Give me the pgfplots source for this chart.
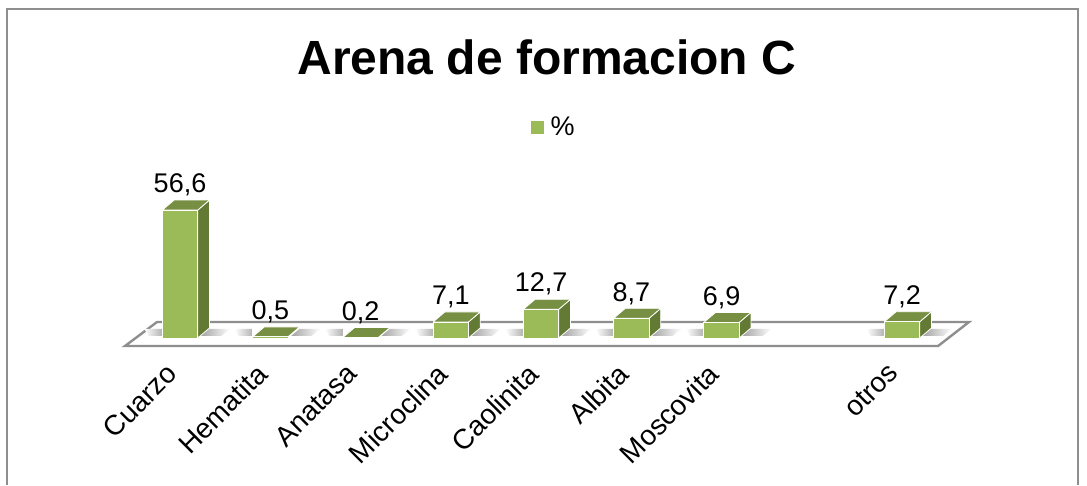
\documentclass[border=0pt]{standalone}
\usepackage{pgfplots}
\pgfplotsset{compat=1.18}
\usepackage{fontspec}
\setmainfont{Liberation Sans}
\definecolor{barfront}{HTML}{9BBB59}
\definecolor{bartop}{HTML}{778F42}
\definecolor{barside}{HTML}{637A35}
\definecolor{floorline}{HTML}{8E8E8E}
\newcommand{\barextras}[2]{%
  \pgfmathsetmacro\xl{#1-0.196}\pgfmathsetmacro\xr{#1+0.196}%
  \pgfmathsetmacro\xld{#1-0.196+0.13}\pgfmathsetmacro\xrd{#1+0.196+0.13}%
  \pgfmathsetmacro\vt{#2+4.42}%
  \pgfmathsetmacro\sla{#1-0.196-0.20}\pgfmathsetmacro\slb{#1-0.196-0.15}%
  \pgfmathsetmacro\sra{#1+0.196+0.36}\pgfmathsetmacro\srb{#1+0.196+0.26}%
  \edef\tmp{%
    \noexpand\addplot[forget plot,draw=none,left color=white,right color=black!30] coordinates {(\slb,0.9)(\xl,0.9)(\xl,4.0)(\sla,4.0)} --cycle;
    \noexpand\addplot[forget plot,draw=none,left color=black!40,right color=white] coordinates {(\xr,0.9)(\srb,0.9)(\sra,4.0)(\xr,4.0)} --cycle;
    \noexpand\addplot[forget plot,draw=white,line width=0.8pt,line join=round,fill=barside] coordinates {(\xr,0)(\xrd,4.42)(\xrd,\vt)(\xr,#2)} --cycle;
    \noexpand\addplot[forget plot,draw=white,line width=0.8pt,line join=round,fill=bartop] coordinates {(\xl,#2)(\xr,#2)(\xrd,\vt)(\xld,\vt)} --cycle;
  }\tmp}
\begin{document}
\begin{tikzpicture}
\begin{axis}[
  at={(0pt,0pt)}, anchor=south west,
  scale only axis, width=1071pt, height=343pt,
  xmin=-1.917, xmax=9.950, ymin=-6.195, ymax=145.58,
  clip=false, axis line style={draw=none},
  ytick=\empty,
  xtick={0,1,2,3,4,5,6,8},
  xticklabels={Cuarzo,Hematita,Anatasa,Microclina,Caolinita,Albita,Moscovita,otros},
  major tick length=0pt,
  xticklabel style={rotate=45,anchor=north east,font=\fontsize{28}{28}\selectfont,inner sep=0pt,xshift=-17.6pt,yshift=4pt},
  title={Arena de formacion C},
  title style={at={(0.504,0.842)},anchor=center,font=\fontsize{48}{48}\selectfont\bfseries},
  legend style={at={(0.5106,0.656)},anchor=center,draw=none,fill=none,font=\fontsize{27}{27}\selectfont},
]
\addlegendimage{legend image code/.code={\fill[barfront] (0pt,-6pt) rectangle (12pt,6pt); \path (17pt,0pt);}}
\addlegendentry{\%}
\addplot[forget plot,draw=floorline,line width=2.4pt,fill=white,line join=miter] coordinates {(-0.609,-3.54)(8.399,-3.54)(8.742,7.08)(-0.255,7.08)} --cycle;
\barextras{0}{56.6}
\barextras{1}{0.5}
\barextras{2}{0.2}
\barextras{3}{7.1}
\barextras{4}{12.7}
\barextras{5}{8.7}
\barextras{6}{6.9}
\barextras{8}{7.2}
\addplot[forget plot,ybar,bar width=0.392,bar shift=0pt,fill=barfront,draw=white,line width=0.8pt,
  point meta=explicit symbolic,
  nodes near coords,
  nodes near coords style={anchor=center,yshift=25pt,font=\fontsize{27}{27}\selectfont,text=black}]
  coordinates {(0,56.6)[56,6] (1,0.5)[0,5] (2,0.2)[0,2] (3,7.1)[7,1] (4,12.7)[12,7] (5,8.7)[8,7] (6,6.9)[6,9] (8,7.2)[7,2]};
\end{axis}
\draw[floorline,line width=2pt] (0pt,-133pt) -- (0pt,343pt) -- (1071pt,343pt) -- (1071pt,-133pt);
\path[use as bounding box] (-7pt,-133pt) rectangle (1080pt,352pt);
\end{tikzpicture}
\end{document}
